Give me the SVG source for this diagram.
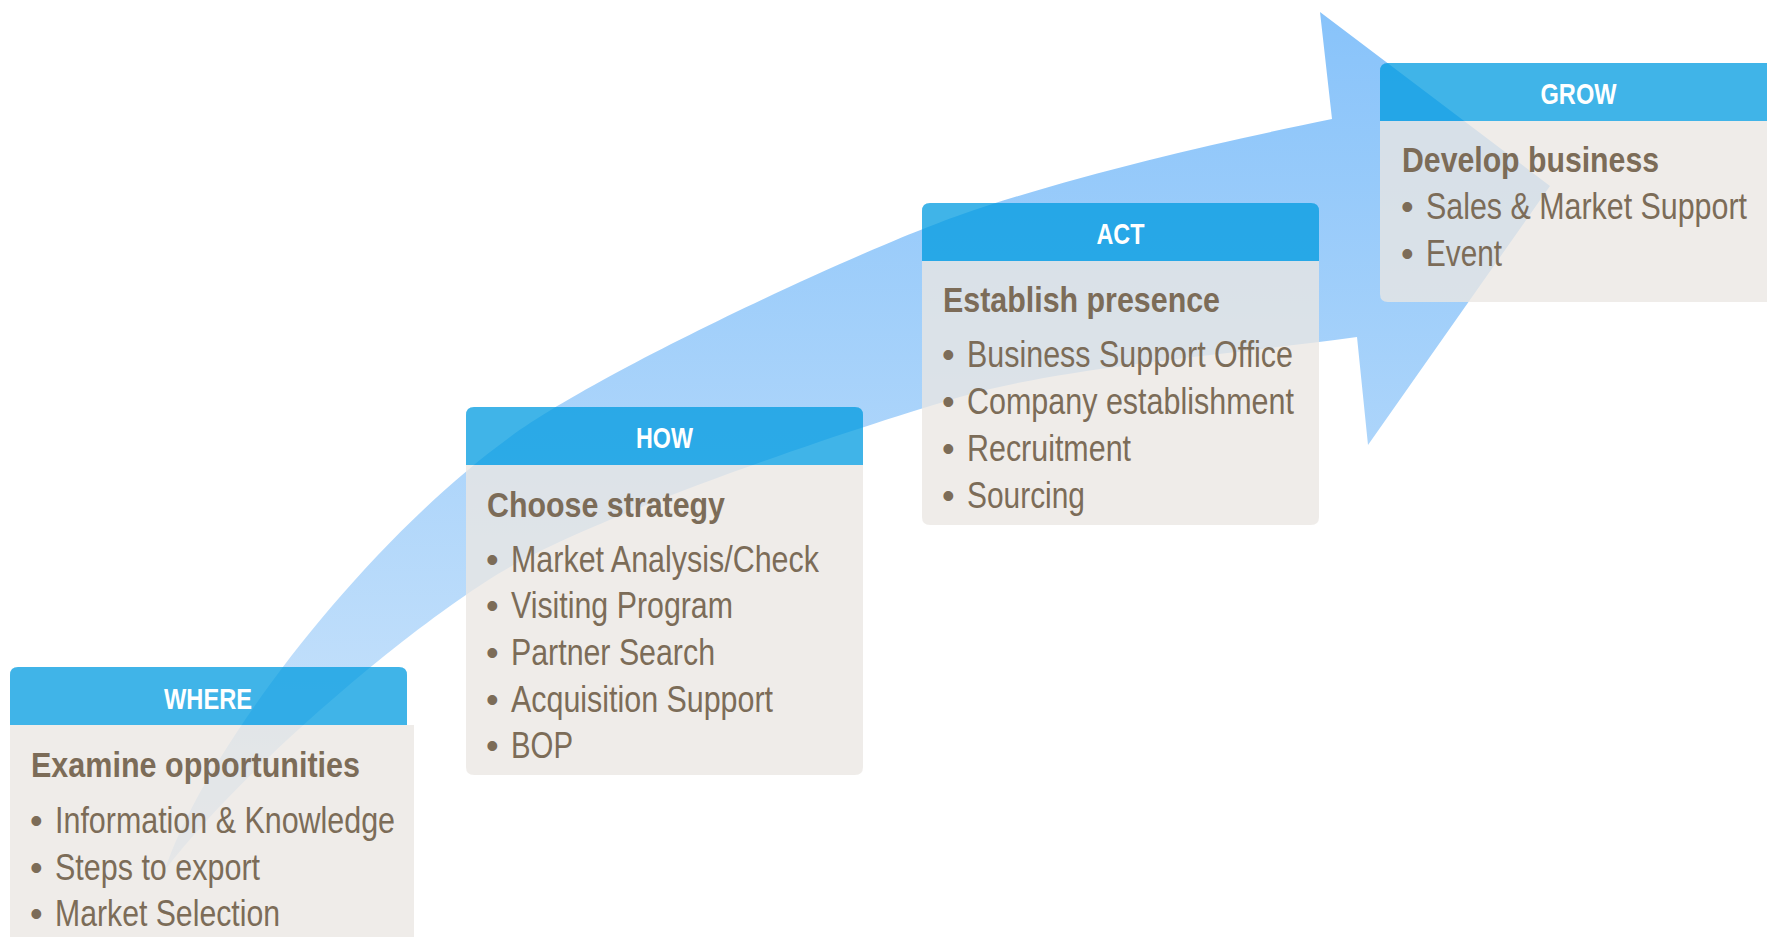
<svg xmlns="http://www.w3.org/2000/svg" width="1767" height="937" viewBox="0 0 1767 937">
<defs>
<linearGradient id="arrowGrad" x1="0" y1="12" x2="0" y2="870" gradientUnits="userSpaceOnUse">
<stop offset="0" stop-color="#88C3FA"/>
<stop offset="1" stop-color="#D0E6FB"/>
</linearGradient>
<style>
.hd{fill:#009BE0;fill-opacity:.75}
.bd{fill:#EBE7E3;fill-opacity:.78}
.lbl{font-family:'Liberation Sans',Arial,sans-serif;font-weight:bold;font-size:30px;fill:#FFFFFF;text-anchor:middle}
.ttl{font-family:'Liberation Sans',Arial,sans-serif;font-weight:bold;font-size:35.5px;fill:#7C6C58}
.itm{font-family:'Liberation Sans',Arial,sans-serif;font-size:36px;fill:#7C6C58}
</style>
</defs>
<rect width="1767" height="937" fill="#FFFFFF"/>
<g id="connectors">
<path id="growth-arrow" fill="url(#arrowGrad)" d="M165,870 C200,760 355,550 510,437 C600,371 860,250 960,215 C1080,173 1230,140 1332,119 L1320,12 L1550,186 L1368,445 L1357,337 C1200,358 1060,368 960,397 C860,426 610,510 510,567 C420,618 245,765 165,870 Z"/>
</g>
<g id="node-where">
<path class="hd" d="M10,725 V675 Q10,667 18,667 H399 Q407,667 407,675 V725 Z"/>
<rect class="bd" x="10" y="725" width="404" height="220"/>
<text class="lbl" x="208" y="709" textLength="88" lengthAdjust="spacingAndGlyphs">WHERE</text>
<text class="ttl" x="31" y="777" textLength="329" lengthAdjust="spacingAndGlyphs">Examine opportunities</text>
<text class="itm" x="30" y="833">•</text><text class="itm" x="55" y="833" textLength="340" lengthAdjust="spacingAndGlyphs">Information &amp; Knowledge</text>
<text class="itm" x="30" y="880">•</text><text class="itm" x="55" y="880" textLength="205" lengthAdjust="spacingAndGlyphs">Steps to export</text>
<text class="itm" x="30" y="926">•</text><text class="itm" x="55" y="926" textLength="225" lengthAdjust="spacingAndGlyphs">Market Selection</text>
</g>
<g id="node-how">
<path class="hd" d="M466,465 V415 Q466,407 474,407 H855 Q863,407 863,415 V465 Z"/>
<path class="bd" d="M466,465 H863 V767 Q863,775 855,775 H474 Q466,775 466,767 Z"/>
<text class="lbl" x="664.5" y="448" textLength="57" lengthAdjust="spacingAndGlyphs">HOW</text>
<text class="ttl" x="487" y="517" textLength="238" lengthAdjust="spacingAndGlyphs">Choose strategy</text>
<text class="itm" x="486" y="572">•</text><text class="itm" x="511" y="572" textLength="308" lengthAdjust="spacingAndGlyphs">Market Analysis/Check</text>
<text class="itm" x="486" y="618">•</text><text class="itm" x="511" y="618" textLength="222" lengthAdjust="spacingAndGlyphs">Visiting Program</text>
<text class="itm" x="486" y="665">•</text><text class="itm" x="511" y="665" textLength="204" lengthAdjust="spacingAndGlyphs">Partner Search</text>
<text class="itm" x="486" y="712">•</text><text class="itm" x="511" y="712" textLength="262" lengthAdjust="spacingAndGlyphs">Acquisition Support</text>
<text class="itm" x="486" y="758">•</text><text class="itm" x="511" y="758" textLength="62" lengthAdjust="spacingAndGlyphs">BOP</text>
</g>
<g id="node-act">
<path class="hd" d="M922,261 V211 Q922,203 930,203 H1311 Q1319,203 1319,211 V261 Z"/>
<path class="bd" d="M922,261 H1319 V517 Q1319,525 1311,525 H930 Q922,525 922,517 Z"/>
<text class="lbl" x="1120.5" y="244" textLength="48" lengthAdjust="spacingAndGlyphs">ACT</text>
<text class="ttl" x="943" y="312" textLength="277" lengthAdjust="spacingAndGlyphs">Establish presence</text>
<text class="itm" x="942" y="367">•</text><text class="itm" x="967" y="367" textLength="326" lengthAdjust="spacingAndGlyphs">Business Support Office</text>
<text class="itm" x="942" y="414">•</text><text class="itm" x="967" y="414" textLength="327" lengthAdjust="spacingAndGlyphs">Company establishment</text>
<text class="itm" x="942" y="461">•</text><text class="itm" x="967" y="461" textLength="164" lengthAdjust="spacingAndGlyphs">Recruitment</text>
<text class="itm" x="942" y="508">•</text><text class="itm" x="967" y="508" textLength="118" lengthAdjust="spacingAndGlyphs">Sourcing</text>
</g>
<g id="node-grow">
<path class="hd" d="M1380,121 V71 Q1380,63 1388,63 H1769 Q1777,63 1777,71 V121 Z"/>
<path class="bd" d="M1380,121 H1777 V294 Q1777,302 1769,302 H1388 Q1380,302 1380,294 Z"/>
<text class="lbl" x="1578.5" y="104" textLength="76" lengthAdjust="spacingAndGlyphs">GROW</text>
<text class="ttl" x="1402" y="172" textLength="257" lengthAdjust="spacingAndGlyphs">Develop business</text>
<text class="itm" x="1401" y="219">•</text><text class="itm" x="1426" y="219" textLength="321" lengthAdjust="spacingAndGlyphs">Sales &amp; Market Support</text>
<text class="itm" x="1401" y="266">•</text><text class="itm" x="1426" y="266" textLength="76" lengthAdjust="spacingAndGlyphs">Event</text>
</g>
</svg>
